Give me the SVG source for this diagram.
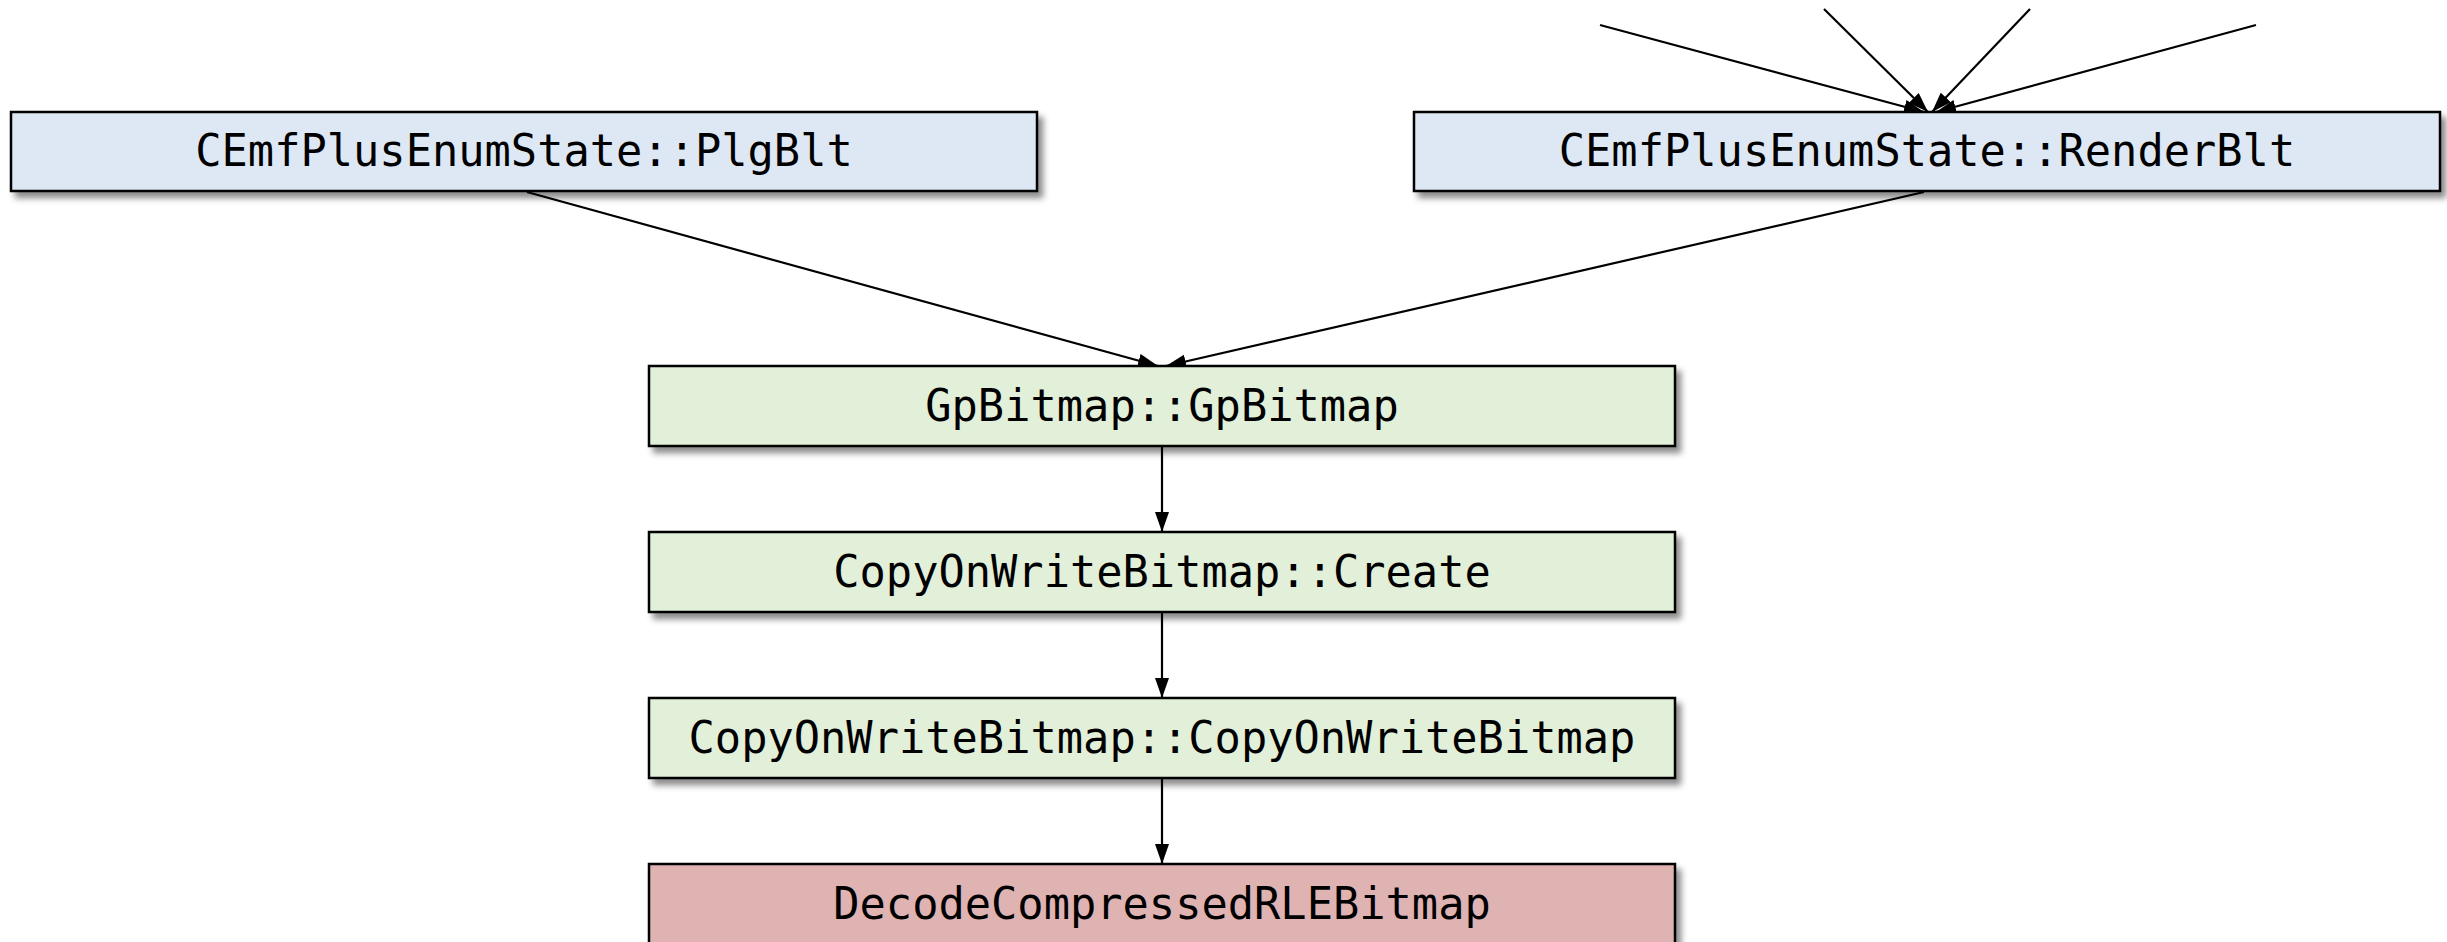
<svg xmlns="http://www.w3.org/2000/svg" width="2447" height="942" viewBox="0 0 2447 942">
<defs>
<filter id="sh" x="-5%" y="-20%" width="110%" height="150%">
<feDropShadow dx="5" dy="6" stdDeviation="3" flood-color="#000" flood-opacity="0.45"/>
</filter>
<marker id="a2" viewBox="0 0 20 14" refX="20" refY="7" markerWidth="20" markerHeight="14" markerUnits="userSpaceOnUse" orient="auto">
<path d="M0,0 L20,7 L0,14 Z" fill="#000"/>
</marker>
</defs>
<style>
.box{stroke:#000;stroke-width:2.5;filter:url(#sh)}
.blue{fill:#dee8f4}
.green{fill:#e2efd9}
.red{fill:#e0b3b3}
.lbl{font-family:"DejaVu Sans Mono","Liberation Mono",monospace;font-size:43.7px;fill:#000;text-anchor:middle}
.edge{stroke:#000;stroke-width:2.2;fill:none;marker-end:url(#a2)}
</style>
<g id="connectors">
<line class="edge" x1="1600" y1="25" x2="1924" y2="112"/>
<line class="edge" x1="1824" y1="9" x2="1928" y2="112"/>
<line class="edge" x1="2030" y1="9" x2="1932" y2="112"/>
<line class="edge" x1="2256" y1="25" x2="1936" y2="112"/>
<line class="edge" x1="527" y1="192" x2="1158" y2="366"/>
<line class="edge" x1="1924" y1="192" x2="1166" y2="366"/>
<line class="edge" x1="1162" y1="447" x2="1162" y2="532"/>
<line class="edge" x1="1162" y1="613" x2="1162" y2="698"/>
<line class="edge" x1="1162" y1="779" x2="1162" y2="864"/>
</g>
<g id="n_plgblt">
<rect class="box blue" x="11" y="112" width="1026" height="79"/>
<text class="lbl" x="524" y="166">CEmfPlusEnumState::PlgBlt</text>
</g>
<g id="n_renderblt">
<rect class="box blue" x="1414" y="112" width="1026" height="79"/>
<text class="lbl" x="1927" y="166">CEmfPlusEnumState::RenderBlt</text>
</g>
<g id="n_gpbitmap">
<rect class="box green" x="649" y="366" width="1026" height="80"/>
<text class="lbl" x="1162" y="421">GpBitmap::GpBitmap</text>
</g>
<g id="n_create">
<rect class="box green" x="649" y="532" width="1026" height="80"/>
<text class="lbl" x="1162" y="587">CopyOnWriteBitmap::Create</text>
</g>
<g id="n_cow">
<rect class="box green" x="649" y="698" width="1026" height="80"/>
<text class="lbl" x="1162" y="753">CopyOnWriteBitmap::CopyOnWriteBitmap</text>
</g>
<g id="n_decode">
<rect class="box red" x="649" y="864" width="1026" height="80"/>
<text class="lbl" x="1162" y="919">DecodeCompressedRLEBitmap</text>
</g>
</svg>
